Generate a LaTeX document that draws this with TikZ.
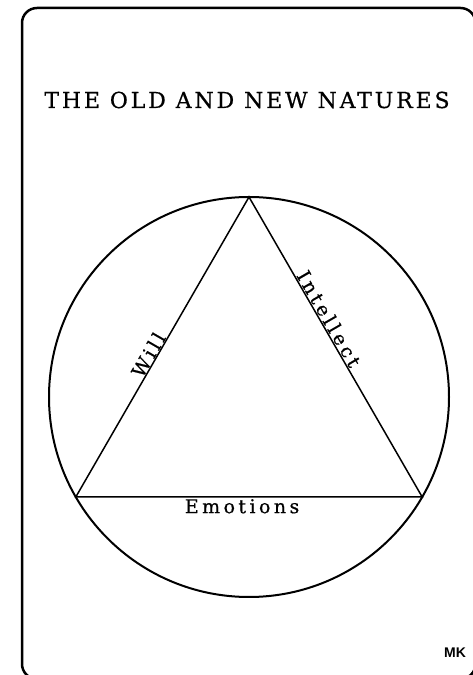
\documentclass[tikz,border=0pt]{standalone}
\usepackage{fontspec}
\setmainfont{DejaVu Serif}
\setsansfont{Liberation Sans}
\usepackage{tikz}
\usetikzlibrary{calc,positioning}
\newfontfamily\titlefont[LetterSpace=13, FakeBold=0.6]{DejaVu Serif}
\newfontfamily\sidefont[LetterSpace=18, FakeBold=0.6]{DejaVu Serif}
\tikzstyle{card} = [line width=2.5pt, rounded corners=15pt]
\tikzstyle{ring} = [line width=2pt]
\tikzstyle{edge} = [line width=1.5pt]
\tikzstyle{caption} = [font=\titlefont\fontsize{22}{24}\selectfont, inner sep=0pt]
\tikzstyle{side} = [font=\sidefont\fontsize{19}{21}\selectfont, inner sep=2pt]
\tikzstyle{initials} = [font=\sffamily\bfseries\fontsize{14}{16}\selectfont, inner sep=0pt]

\begin{document}
\begin{tikzpicture}[x=1pt, y=1pt]
\useasboundingbox (0,0) rectangle (473,675);
\clip (0,0) rectangle (473,675);
\draw[card] (22,-4) rectangle (475.5,667);

\node[caption, anchor=base] (title) at (247,567) {THE OLD AND NEW NATURES};

\coordinate (centre) at (249,278);
\draw[ring] (centre) circle (200);
\coordinate (top) at ($(centre)+(90:200)$);
\coordinate (left) at ($(centre)+(210:200)$);
\coordinate (right) at ($(centre)+(330:200)$);

\draw[edge] (top) -- (right) -- (left) -- cycle;
\path (left) -- node[side, sloped, above, pos=0.46, inner sep=1pt] (will) {Will} (top);
\path (top) -- node[side, sloped, above, pos=0.42, inner sep=1pt] (intellect) {Intellect} (right);
\path (left) -- node[side, below, pos=0.48] (emotions) {Emotions} (right);

\node[initials, anchor=base] (mk) at (455,17) {MK};
\end{tikzpicture}
\end{document}
